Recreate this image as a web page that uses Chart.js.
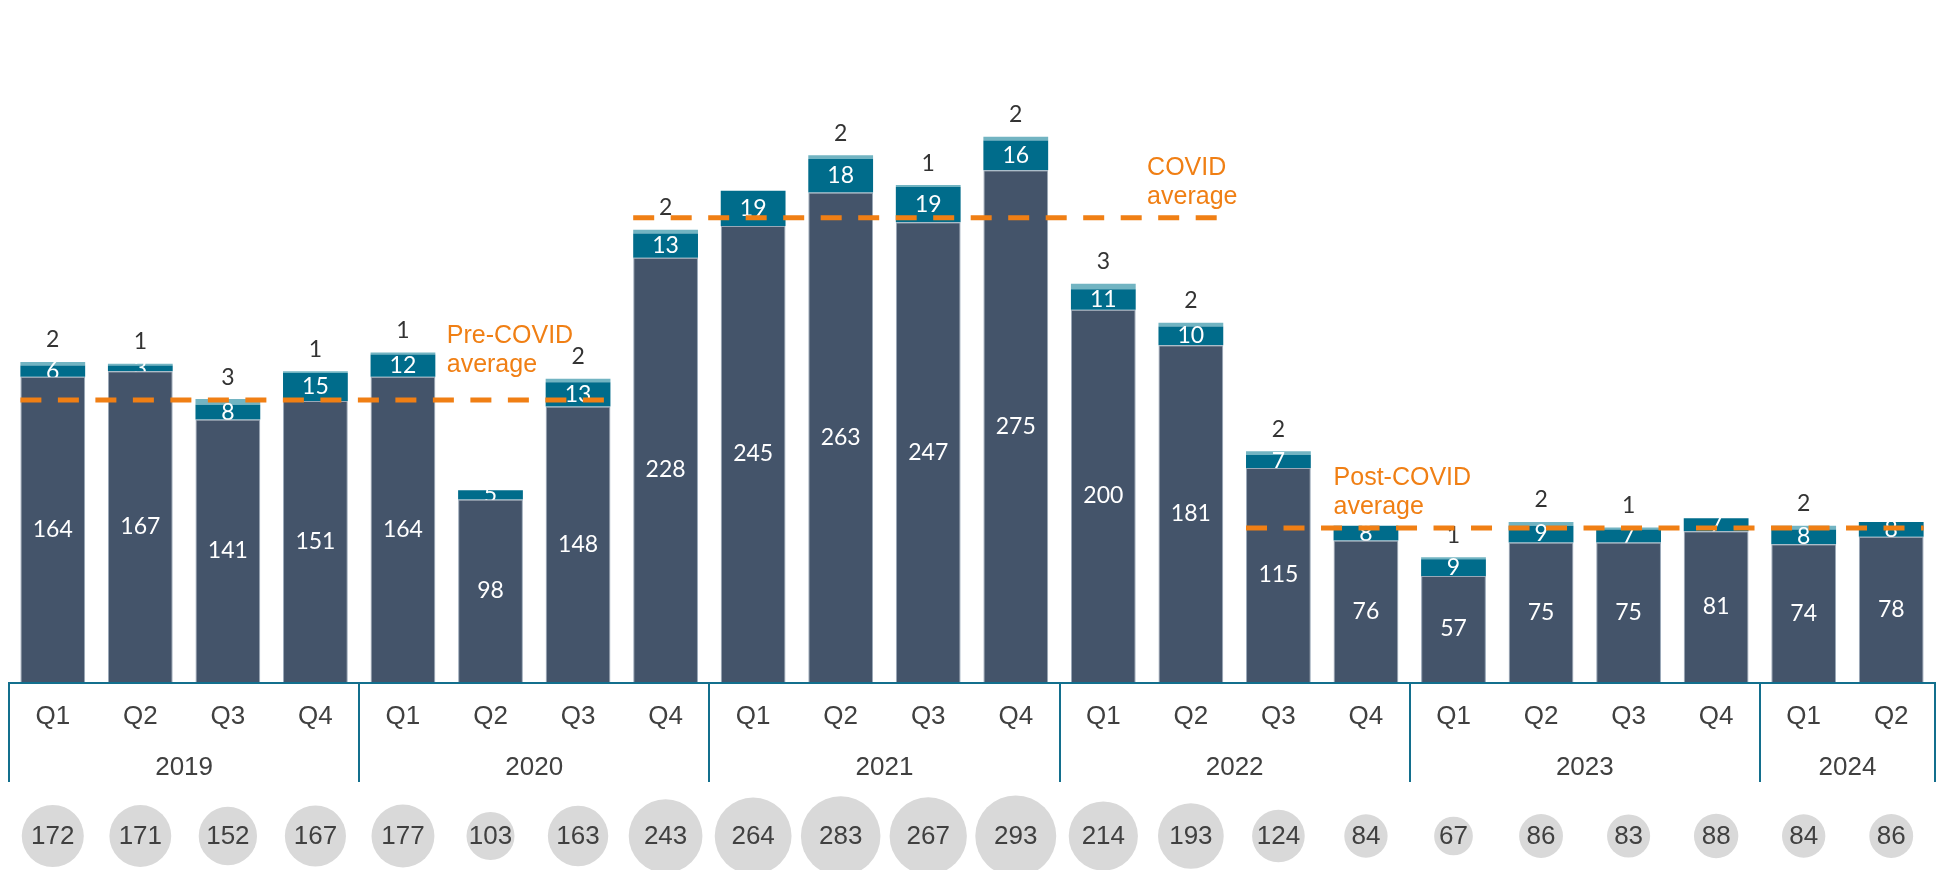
<!DOCTYPE html>
<html lang="en">
<head>
    <meta charset="UTF-8">
    <title>Quarterly totals 2019-2024</title>
    <script src="https://cdn.jsdelivr.net/npm/chart.js"></script>
    <style>
        body {
            margin: 0;
            background-color: white;
        }

        #wrap {
            position: relative;
            width: 1939px;
            height: 870px;
        }
    </style>
</head>
<body>
    <div id="wrap">
        <canvas id="quarterChart"></canvas>
    </div>

    <script>
        // data
        const quarterLabels = ['Q1', 'Q2', 'Q3', 'Q4', 'Q1', 'Q2', 'Q3', 'Q4', 'Q1', 'Q2', 'Q3', 'Q4',
                               'Q1', 'Q2', 'Q3', 'Q4', 'Q1', 'Q2', 'Q3', 'Q4', 'Q1', 'Q2'];
        const yearLabels = ['2019', '2020', '2021', '2022', '2023', '2024'];
        const quartersPerYear = [4, 4, 4, 4, 4, 2];

        const mainValues = [164, 167, 141, 151, 164, 98, 148, 228, 245, 263, 247, 275, 200, 181, 115, 76, 57, 75, 75, 81, 74, 78];
        const secondValues = [6, 3, 8, 15, 12, 5, 13, 13, 19, 18, 19, 16, 11, 10, 7, 8, 9, 9, 7, 7, 8, 8];
        const thirdValues = [2, 1, 3, 1, 1, 0, 2, 2, 0, 2, 1, 2, 3, 2, 2, 0, 1, 2, 1, 0, 2, 0];
        const totalValues = [172, 171, 152, 167, 177, 103, 163, 243, 264, 283, 267, 293, 214, 193, 124, 84, 67, 86, 83, 88, 84, 86];

        const avgNames = ['Pre-COVID', 'COVID', 'Post-COVID'];
        const avgValues = [151.5, 249.5, 82.8];
        const avgFrom = [0, 7, 14];
        const avgTo = [6, 13, 21];

        const ORANGE = '#f07f14';
        const AXIS = '#136f8d';
        const TEXT = '#404040';
        const BAR_PCT = 0.74;
        const half = BAR_PCT / 2;

        const avgDatasets = avgValues.map((v, k) => ({
            type: 'line',
            label: avgNames[k] + ' average',
            data: [{ x: avgFrom[k] - half, y: v }, { x: avgTo[k] + half, y: v }],
            xAxisID: 'xl',
            yAxisID: 'yl',
            borderColor: ORANGE,
            borderWidth: 5,
            borderDash: [21, 16.5],
            borderCapStyle: 'butt',
            pointRadius: 0,
            fill: false,
            order: 0
        }));

        // where the orange captions sit, relative to the x scale (category units) and the line
        const avgTextAt = [4.5, 12.5, 14.63];
        const avgTextRise = [57, 43, 43];

        const overlay = {
            id: 'overlay',
            afterDatasetDraw(chart, args) {
                const ds = chart.data.datasets[args.index];
                if (ds.type === 'line') return;
                const ctx = chart.ctx;
                ctx.save();
                ctx.font = '23px Lato, "Open Sans", sans-serif';
                ctx.textAlign = 'center';
                ctx.textBaseline = 'middle';
                args.meta.data.forEach((bar, i) => {
                    const v = ds.data[i];
                    if (!v) return;
                    const p = bar.getProps(['x', 'y', 'base'], true);
                    if (ds.labelOutside) {
                        ctx.fillStyle = '#333333';
                        ctx.fillText(v, p.x, p.y - 22);
                    } else {
                        ctx.fillStyle = '#ffffff';
                        ctx.fillText(v, p.x, (p.y + p.base) / 2);
                    }
                });
                ctx.restore();
            },
            afterDraw(chart) {
                const ctx = chart.ctx;
                const xs = chart.scales.x;
                const xl = chart.scales.xl;
                const yl = chart.scales.yl;
                const area = chart.chartArea;
                const base = area.bottom;

                ctx.save();
                // axis frame
                ctx.strokeStyle = AXIS;
                ctx.lineWidth = 2;
                ctx.beginPath();
                ctx.moveTo(area.left, base + 1);
                ctx.lineTo(area.right, base + 1);
                let idx = 0;
                const bounds = [-0.5];
                quartersPerYear.forEach(n => { idx += n; bounds.push(idx - 0.5); });
                bounds.forEach(b => {
                    const bx = Math.round(xl.getPixelForValue(b));
                    ctx.moveTo(bx, base);
                    ctx.lineTo(bx, base + 100);
                });
                ctx.stroke();

                // quarter + year labels
                ctx.fillStyle = TEXT;
                ctx.font = '26px "Liberation Sans", Arial, sans-serif';
                ctx.textAlign = 'center';
                ctx.textBaseline = 'middle';
                quarterLabels.forEach((q, i) => {
                    ctx.fillText(q, xs.getPixelForValue(i), base + 35);
                });
                yearLabels.forEach((y, k) => {
                    const mid = (bounds[k] + bounds[k + 1]) / 2;
                    ctx.fillText(y, xl.getPixelForValue(mid), base + 86);
                });

                // total bubbles, area proportional to value
                totalValues.forEach((v, i) => {
                    const cx = xs.getPixelForValue(i);
                    const r = 2.365 * Math.sqrt(v);
                    ctx.fillStyle = '#d9d9d9';
                    ctx.beginPath();
                    ctx.arc(cx, base + 154, r, 0, Math.PI * 2);
                    ctx.fill();
                    ctx.fillStyle = TEXT;
                    ctx.fillText(v, cx, base + 155);
                });

                // average captions
                ctx.fillStyle = ORANGE;
                ctx.textAlign = 'left';
                ctx.textBaseline = 'alphabetic';
                ctx.font = '25px "Liberation Sans", Arial, sans-serif';
                avgNames.forEach((name, k) => {
                    const tx = xl.getPixelForValue(avgTextAt[k]);
                    const ty = yl.getPixelForValue(avgValues[k]) - avgTextRise[k];
                    ctx.fillText(name, tx, ty);
                    ctx.fillText('average', tx, ty + 29);
                });
                ctx.restore();
            }
        };

        const ctx = document.getElementById('quarterChart').getContext('2d');
        new Chart(ctx, {
            type: 'bar',
            data: {
                labels: quarterLabels,
                datasets: [
                    {
                        label: 'Main',
                        data: mainValues,
                        backgroundColor: '#44546a',
                        borderColor: '#9aa8b8',
                        borderWidth: 1,
                        order: 1
                    },
                    {
                        label: 'Second',
                        data: secondValues,
                        backgroundColor: '#006c8b',
                        order: 2
                    },
                    {
                        label: 'Third',
                        data: thirdValues,
                        backgroundColor: '#72b4c2',
                        labelOutside: true,
                        order: 3
                    },
                    ...avgDatasets
                ]
            },
            options: {
                responsive: true,
                maintainAspectRatio: false,
                animation: false,
                layout: {
                    padding: { top: 12, bottom: 188, left: 9, right: 4 }
                },
                datasets: {
                    bar: {
                        grouped: false,
                        barPercentage: BAR_PCT,
                        categoryPercentage: 1
                    }
                },
                plugins: {
                    legend: { display: false },
                    tooltip: { enabled: false }
                },
                scales: {
                    x: { stacked: true, display: false },
                    y: { stacked: true, display: false, min: 0, max: 360 },
                    xl: { type: 'linear', display: false, offset: false, min: -0.5, max: quarterLabels.length - 0.5 },
                    yl: { display: false, min: 0, max: 360 }
                }
            },
            plugins: [overlay]
        });
    </script>
</body>
</html>
